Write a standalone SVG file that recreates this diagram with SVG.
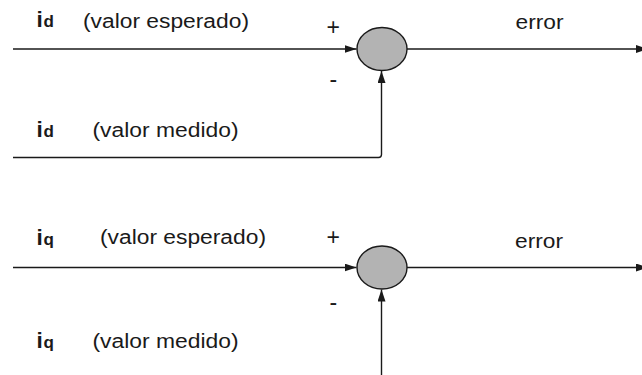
<svg xmlns="http://www.w3.org/2000/svg" width="642" height="375" viewBox="0 0 642 375">
<style>
text{font-family:"Liberation Sans",Arial,sans-serif;fill:#1a1a1a}
.lbl{font-size:20px}
.sym{font-size:23px}
.bi{font-size:22.5px;font-weight:bold}
.bs{font-size:17px;font-weight:bold}
.ln{fill:none;stroke:#1a1a1a;stroke-width:1.4}
.sum{fill:#b3b3b3;stroke:#1a1a1a;stroke-width:1.4}
</style>
<defs>
<marker id="arr" markerUnits="userSpaceOnUse" markerWidth="13" markerHeight="9" refX="12" refY="4" orient="auto">
<path d="M0,0 L12,4 L0,8 Z" fill="#1a1a1a"/>
</marker>
</defs>
<rect width="642" height="375" fill="#ffffff"/>
<g id="connectors">
<path class="ln" d="M13,49 H356.5" marker-end="url(#arr)"/>
<path class="ln" d="M407,49 H648" marker-end="url(#arr)"/>
<path class="ln" d="M13,157.5 H378.5 Q381.5,157.5 381.5,154.5 V71" marker-end="url(#arr)"/>
<path class="ln" d="M13,267.5 H356.5" marker-end="url(#arr)"/>
<path class="ln" d="M407,267.5 H648" marker-end="url(#arr)"/>
<path class="ln" d="M381.5,380 V289.5" marker-end="url(#arr)"/>
</g>
<g id="sum1"><ellipse class="sum" cx="382" cy="49" rx="25" ry="21.5"/></g>
<g id="sum2"><ellipse class="sum" cx="382" cy="267.5" rx="25" ry="21.5"/></g>
<g id="labels1">
<text x="36.5" y="27"><tspan class="bi">i</tspan><tspan class="bs" x="43.5">d</tspan></text>
<text class="lbl" x="83" y="27.5" textLength="166" lengthAdjust="spacingAndGlyphs">(valor esperado)</text>
<text class="sym" x="326.5" y="35">+</text>
<text class="sym" x="329.5" y="87">-</text>
<text class="lbl" x="515.5" y="28.5" textLength="48" lengthAdjust="spacingAndGlyphs">error</text>
<text x="36.5" y="137"><tspan class="bi">i</tspan><tspan class="bs" x="43.5">d</tspan></text>
<text class="lbl" x="92.5" y="137" textLength="146" lengthAdjust="spacingAndGlyphs">(valor medido)</text>
</g>
<g id="labels2">
<text x="36.5" y="244.5"><tspan class="bi">i</tspan><tspan class="bs" x="43.5">q</tspan></text>
<text class="lbl" x="100" y="243.5" textLength="166" lengthAdjust="spacingAndGlyphs">(valor esperado)</text>
<text class="sym" x="326.5" y="245">+</text>
<text class="sym" x="329.5" y="310">-</text>
<text class="lbl" x="515" y="247.5" textLength="48" lengthAdjust="spacingAndGlyphs">error</text>
<text x="36.5" y="347.5"><tspan class="bi">i</tspan><tspan class="bs" x="43.5">q</tspan></text>
<text class="lbl" x="92.5" y="348" textLength="146" lengthAdjust="spacingAndGlyphs">(valor medido)</text>
</g>
</svg>
